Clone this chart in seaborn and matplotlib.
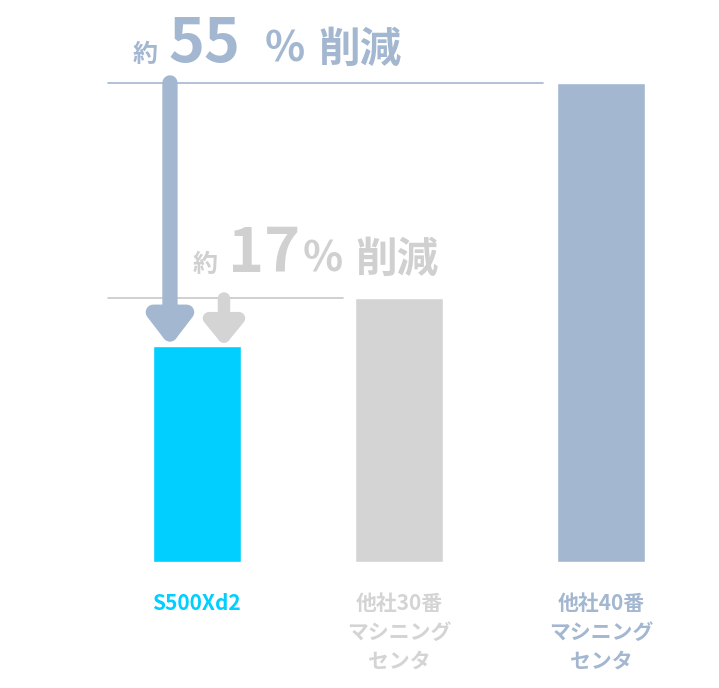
import matplotlib
matplotlib.use("Agg")
import matplotlib.pyplot as plt
import seaborn as sns
import pandas as pd

categories = ["S500Xd2", "他社30番\nマシニング\nセンタ", "他社40番\nマシニング\nセンタ"]
values = [45, 55, 100]
colors = ["#00cfff", "#d4d4d4", "#a3b7d1"]

sns.set_theme(style="white")
plt.rcParams['font.family'] = ['Noto Sans CJK JP', 'DejaVu Sans']

fig = plt.figure(figsize=(7.19, 6.88), dpi=100)
ax = fig.add_axes([0, 0, 1, 1])
df = pd.DataFrame({"cat": categories, "val": values})
sns.barplot(data=df, x="cat", y="val", hue="cat", palette=colors, width=0.44,
            legend=False, ax=ax, saturation=1)
ax.set_xlim(-0.975, 2.584)
ax.set_ylim(-26.3, 117.3)
ax.axis("off")

def px(x, y):
    return ((x - 197) / 202, (562 - y) / 4.79)

# reference lines
x0, _ = px(108, 0); x1, _ = px(543, 0); x2, _ = px(343, 0)
ax.plot([x0, x1], [values[2]] * 2, color="#a3b7d1", lw=1.2)
ax.plot([x0, x2], [values[1]] * 2, color="#c8c8c8", lw=1.2)

# arrows
ax.annotate("", xy=(px(170, 0)[0], values[0]), xytext=(px(170, 0)[0], values[2]),
            arrowprops=dict(arrowstyle="-|>,head_width=1.0,head_length=1.3",
                            color="#a3b7d1", lw=11, shrinkA=0, shrinkB=0))
ax.annotate("", xy=(px(224, 0)[0], values[0]), xytext=(px(224, 0)[0], values[1]),
            arrowprops=dict(arrowstyle="-|>,head_width=0.9,head_length=1.1",
                            color="#d4d4d4", lw=9, shrinkA=0, shrinkB=0))

def txt(xp, yp, s, size, color):
    x, y = px(xp, yp)
    ax.text(x, y, s, fontsize=size, color=color, fontweight="bold", ha="left", va="baseline")

c1 = "#a3b7d1"
txt(133, 62, "約", 18, c1); txt(168, 62, "55", 44, c1); txt(265, 62, "%", 30, c1); txt(318, 62, "削減", 30, c1)
c2 = "#d0d0d0"
txt(193, 272, "約", 18, c2); txt(228, 272, "17", 44, c2); txt(303, 272, "%", 30, c2); txt(355, 272, "削減", 30, c2)

label_colors = ["#00cfff", "#d4d4d4", "#a3b7d1"]
for i, (lab, col) in enumerate(zip(categories, label_colors)):
    ax.text(i, px(0, 593)[1], lab, fontsize=15, color=col, fontweight="bold",
            ha="center", va="top", linespacing=1.45)

fig.savefig("out.png", dpi=100)
